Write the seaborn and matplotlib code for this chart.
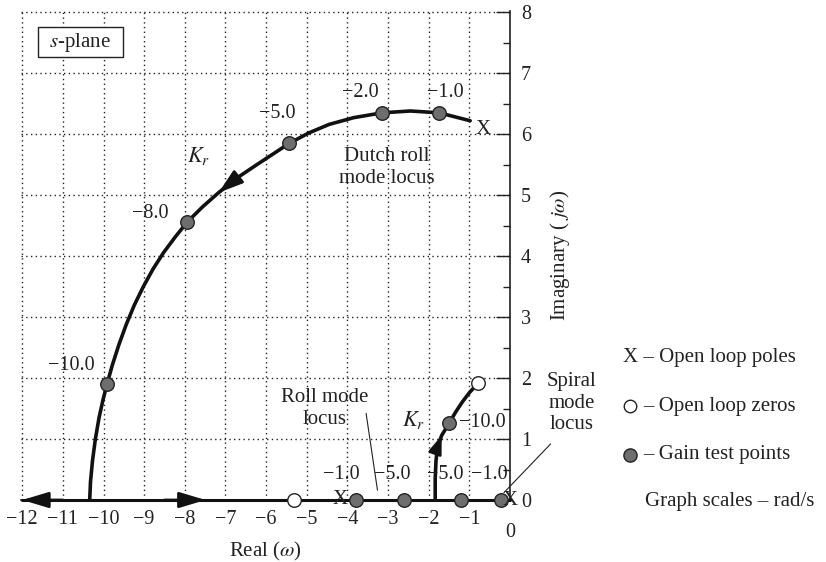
import matplotlib
matplotlib.use("Agg")
import matplotlib.pyplot as plt
from matplotlib.patches import Rectangle
import seaborn as sns
import pandas as pd

# ---------------- data ----------------
dutch_x = [-0.98, -1.74, -2.45, -3.15, -3.85, -4.45, -4.95, -5.43, -5.84, -6.25,
           -6.72, -7.17, -7.56, -7.94, -8.24, -8.52, -8.78, -9.02, -9.24, -9.44,
           -9.62, -9.78, -9.91, -10.01, -10.11, -10.20, -10.27, -10.32, -10.34]
dutch_y = [6.22, 6.35, 6.38, 6.35, 6.27, 6.16, 6.02, 5.85, 5.67, 5.49,
           5.28, 5.04, 4.81, 4.56, 4.31, 4.06, 3.79, 3.50, 3.20, 2.88,
           2.55, 2.22, 1.91, 1.65, 1.35, 1.00, 0.65, 0.30, 0.00]

spiral_x = [-1.84, -1.84, -1.82, -1.78, -1.68, -1.58, -1.49, -1.33, -1.17, -1.00, -0.78]
spiral_y = [0.00, 0.35, 0.65, 0.88, 1.06, 1.17, 1.27, 1.45, 1.61, 1.76, 1.92]

real_axis_x = [-12.0, 0.0]
real_axis_y = [0.0, 0.0]

gain_x = [-1.74, -3.15, -5.43, -7.94, -9.91, -1.49, -3.79, -2.60, -1.20, -0.22]
gain_y = [6.35, 6.35, 5.85, 4.56, 1.91, 1.27, 0.0, 0.0, 0.0, 0.0]
gain_labels = ["\u22121.0", "\u22122.0", "\u22125.0", "\u22128.0", "\u221210.0",
               "\u221210.0", "\u22121.0", "\u22125.0", "\u22125.0", "\u22121.0"]

zero_x = [-0.78, -5.32]
zero_y = [1.92, 0.0]

pole_x = [-0.65, -4.18, 0.0]
pole_y = [6.07, 0.0, -0.01]

x_ticks = list(range(-12, 1))
x_ticklabels = ["\u2212%d" % abs(v) for v in range(-12, 0)] + [""]
y_ticks = list(range(0, 9))

# ---------------- style ----------------
sns.set_theme(style="white")
plt.rcParams["font.family"] = ["Liberation Serif", "DejaVu Serif"]
plt.rcParams["mathtext.fontset"] = "stix"
plt.rcParams["axes.unicode_minus"] = True

FS = 15
TFS = 14.5
GRAY = "#6e6e6e"
INK = "#222222"

fig = plt.figure(figsize=(8.26, 5.62), dpi=100)
ax = fig.add_axes([21 / 826, 62 / 562, 489 / 826, 489 / 562])
ax.set_xlim(-12.03, 0)
ax.set_ylim(0, 8.02)

# grid and axes
ax.set_xticks(x_ticks)
ax.set_xticklabels(x_ticklabels)
ax.set_yticks(y_ticks)
ax.set_xticks([v + 0.5 for v in range(-12, 0)], minor=True)
ax.set_yticks([v + 0.5 for v in range(0, 8)], minor=True)
ax.grid(True, which="major", color=INK, linestyle=(0, (1, 2.4)), linewidth=1.0)

for s in ["top", "left"]:
    ax.spines[s].set_visible(False)
for s in ["bottom", "right"]:
    ax.spines[s].set_color(INK)
    ax.spines[s].set_linewidth(1.2)
ax.yaxis.tick_right()
ax.yaxis.set_label_position("right")
ax.tick_params(which="major", direction="in", length=10, width=1.0, colors=INK,
               labelsize=TFS, labelcolor=INK)
ax.tick_params(which="minor", direction="in", length=5, width=1.0, colors=INK)
ax.tick_params(axis="x", which="major", pad=7)
ax.tick_params(axis="y", which="major", pad=8)

ax.set_xlabel("Real ($\\omega$)", fontsize=FS, color=INK, labelpad=8)
ax.set_ylabel("Imaginary ( $j\\omega$)", fontsize=FS, color=INK, labelpad=12)
ax.text(0, -0.54, "0", ha="center", va="center", fontsize=TFS, color=INK, clip_on=False)

# loci
sns.lineplot(x=real_axis_x, y=real_axis_y, sort=False, estimator=None, color="#111111",
             linewidth=2.2, ax=ax, clip_on=False, zorder=4)
sns.lineplot(x=dutch_x, y=dutch_y, sort=False, estimator=None, color="#111111",
             linewidth=2.6, ax=ax, clip_on=False, zorder=4)
sns.lineplot(x=spiral_x, y=spiral_y, sort=False, estimator=None, color="#111111",
             linewidth=2.6, ax=ax, clip_on=False, zorder=4)


def arrow(tip, base, hl, hw):
    ax.annotate("", xy=tip, xytext=base,
                arrowprops=dict(arrowstyle="-|>,head_length=%g,head_width=%g" % (hl, hw),
                                color="#111111", lw=2.0, shrinkA=0, shrinkB=0,
                                mutation_scale=20), annotation_clip=False, zorder=5)


arrow((dutch_x[11], dutch_y[11]), (dutch_x[10], dutch_y[10]), 0.75, 0.24)
arrow((spiral_x[4], spiral_y[4]), (spiral_x[3], spiral_y[3]), 0.55, 0.2)
arrow((real_axis_x[0], 0), (real_axis_x[0] + 1.0, 0), 0.8, 0.24)
arrow((-7.49, 0), (-8.5, 0), 0.8, 0.24)

# points
gdf = pd.DataFrame({"x": gain_x, "y": gain_y})
sns.scatterplot(data=gdf, x="x", y="y", s=95, color=GRAY, edgecolor=INK,
                linewidth=1.0, ax=ax, clip_on=False, zorder=6)
zdf = pd.DataFrame({"x": zero_x, "y": zero_y})
sns.scatterplot(data=zdf, x="x", y="y", s=95, color="white", edgecolor=INK,
                linewidth=1.0, ax=ax, clip_on=False, zorder=6)
for px, py in zip(pole_x, pole_y):
    ax.text(px, py, "X", ha="center", va="center", fontsize=FS, color=INK,
            clip_on=False, zorder=7)

# gain labels
label_pos = [(-1.60, 6.69), (-3.69, 6.69), (-5.73, 6.34), (-8.85, 4.70), (-10.80, 2.21),
             (-0.68, 1.27), (-4.14, 0.42), (-2.89, 0.42), (-1.60, 0.42), (-0.52, 0.42)]
for (lx, ly), lab in zip(label_pos, gain_labels):
    ax.text(lx, ly, lab, ha="center", va="center", fontsize=TFS, color=INK,
            clip_on=False, zorder=7)

# annotations
ax.text(-7.66, 5.65, "$K_r$", ha="center", va="center", fontsize=FS + 1, color=INK)
ax.text(-2.38, 1.32, "$K_r$", ha="center", va="center", fontsize=FS + 1, color=INK)
ax.text(-3.03, 5.45, "Dutch roll\nmode locus", ha="center", va="center", fontsize=FS,
        color=INK, linespacing=1.2)
ax.text(-4.57, 1.50, "Roll mode\nlocus", ha="center", va="center", fontsize=FS,
        color=INK, linespacing=1.2)
ax.text(1.52, 1.59, "Spiral\nmode\nlocus", ha="center", va="center", fontsize=FS,
        color=INK, linespacing=1.2, clip_on=False)
ax.plot([-3.54, -3.26], [1.42, 0.16], color=INK, lw=0.8, clip_on=False, zorder=3)
ax.plot([1.0, -0.15], [0.92, 0.12], color=INK, lw=0.8, clip_on=False, zorder=3)

# s-plane box
ax.add_patch(Rectangle((-11.62, 7.26), 2.09, 0.49, fc="white", ec=INK, lw=1.0, zorder=8))
ax.text(-10.575, 7.50, "$s$-plane", ha="center", va="center", fontsize=FS, color=INK,
        zorder=9)

# key
ax.text(2.79, 2.33, "X \u2013 Open loop poles", ha="left", va="center", fontsize=FS,
        color=INK, clip_on=False)
ax.plot([2.95], [1.54], "o", ms=9, mfc="white", mec=INK, mew=1.0, clip_on=False)
ax.text(3.27, 1.54, "\u2013 Open loop zeros", ha="left", va="center", fontsize=FS,
        color=INK, clip_on=False)
ax.plot([2.95], [0.74], "o", ms=9.5, mfc=GRAY, mec=INK, mew=1.0, clip_on=False)
ax.text(3.27, 0.74, "\u2013 Gain test points", ha="left", va="center", fontsize=FS,
        color=INK, clip_on=False)
ax.text(3.32, -0.03, "Graph scales \u2013 rad/s", ha="left", va="center", fontsize=FS,
        color=INK, clip_on=False)

fig.savefig("out.png", dpi=100, facecolor="white")
